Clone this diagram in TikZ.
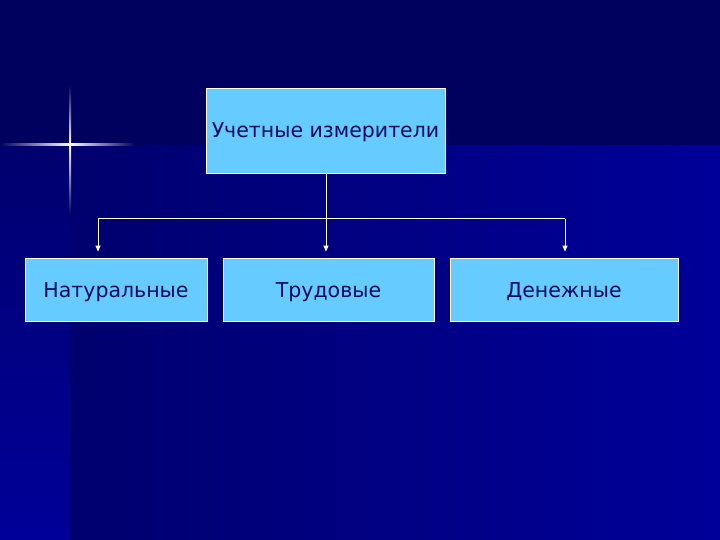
\documentclass[tikz,border=0pt]{standalone}
\usepackage{fontspec}
\setmainfont{DejaVu Sans}
\usepackage{tikz}
\usetikzlibrary{positioning, arrows.meta}

\definecolor{slidedark}{HTML}{00005E}
\definecolor{slideblue}{HTML}{000099}
\definecolor{slidemid}{HTML}{00006E}
\definecolor{boxfill}{HTML}{66CCFF}
\definecolor{boxtext}{HTML}{0A0A5A}

\begin{document}
\begin{tikzpicture}[
        x=1pt, y=-1pt,
        font=\fontsize{20.5}{24}\selectfont,
        unit/.style={
            draw=white,
            line width=0.8pt,
            fill=boxfill,
            text=boxtext,
            align=center,
            text height=17pt,
            text depth=2pt,
            minimum height=63pt,
            inner sep=2pt
        },
        link/.style={draw=white, line width=1pt},
        >={Triangle[length=6pt,width=5pt]}
    ]

    % background of the slide
    \fill[slidedark] (0,0) rectangle (720,540);
    \shade[left color=slidemid, right color=slideblue] (70,146) rectangle (720,540);
    \shade[top color=slidemid, bottom color=slideblue] (0,146) rectangle (70,540);

    % star
    \shade[left color=slidedark, right color=white] (0,144) rectangle (70,146);
    \shade[left color=white, right color=slidedark] (70,144) rectangle (135,146);
    \shade[top color=slidedark, bottom color=white] (69,85) rectangle (71,145);
    \shade[top color=white, bottom color=slidedark] (69,145) rectangle (71,215);

    \node[unit, minimum width=239pt, minimum height=85pt] (izmer) at (325.5,130.5) {Учетные измерители};

    \node[unit, minimum width=182pt] (natur) at (116,289.5) {Натуральные};
    \node[unit, minimum width=211pt] (trud) at (328.5,289.5) {Трудовые};
    \node[unit, minimum width=228pt] (den) at (564,289.5) {Денежные};

    \coordinate (busL) at (98,219);
    \coordinate (busM) at (326,219);
    \coordinate (busR) at (565,219);

    \draw[link] (busL) -- (busR);
    \draw[link, ->, shorten >=6pt] (izmer.south -| busM) -- (busM |- trud.north);
    \draw[link, ->, shorten >=6pt] (busL) -- (busL |- natur.north);
    \draw[link, ->, shorten >=6pt] (busR) -- (busR |- den.north);

    \useasboundingbox (0,0) rectangle (720,540);
\end{tikzpicture}
\end{document}
